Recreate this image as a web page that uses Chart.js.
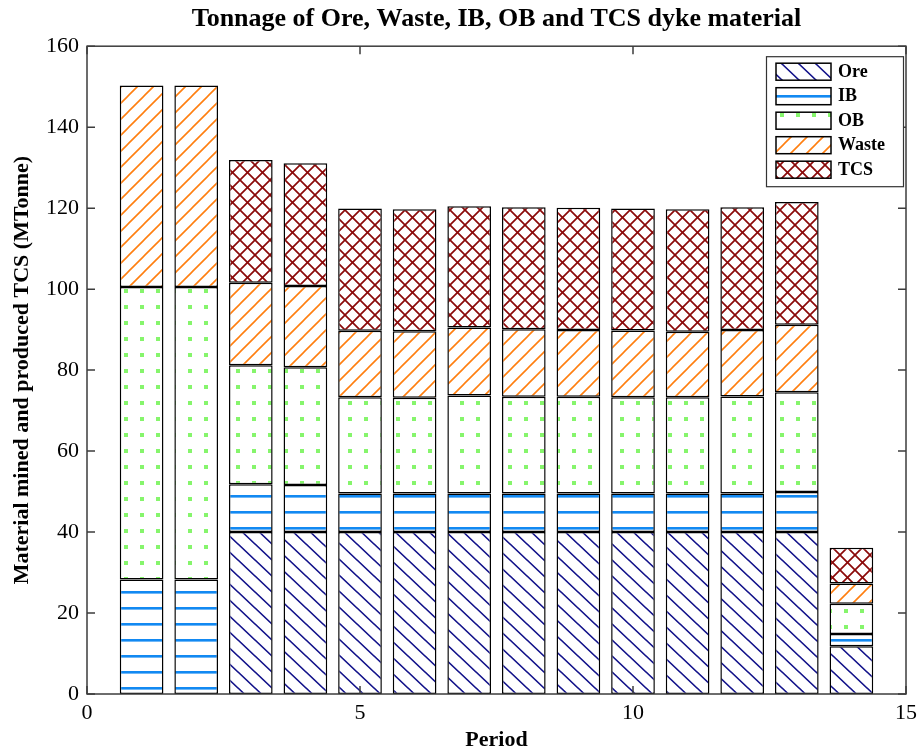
<!DOCTYPE html>
<html>
<head>
<meta charset="utf-8">
<title>Tonnage of Ore, Waste, IB, OB and TCS dyke material</title>
<script src="https://cdn.jsdelivr.net/npm/chart.js@4.4.1/dist/chart.umd.min.js"></script>
<style>
  html, body { margin: 0; padding: 0; background: #fff; }
  #chart { display: block; }
</style>
</head>
<body>
<canvas id="chart" width="923" height="756"></canvas>
<script>
// tonnage per period (MTonne), one array per material
const periods = [1, 2, 3, 4, 5, 6, 7, 8, 9, 10, 11, 12, 13, 14];
const ore   = [0, 0, 40, 40, 40, 40, 40, 40, 40, 40, 40, 40, 40, 11.8];
const ib    = [28.3, 28.3, 11.8, 11.6, 9.5, 9.5, 9.5, 9.5, 9.5, 9.5, 9.5, 9.5, 9.9, 3.0];
const ob    = [72.2, 72.2, 29.4, 29.1, 23.8, 23.7, 24.2, 23.9, 23.9, 23.8, 23.8, 24.0, 24.6, 7.5];
const waste = [49.8, 49.8, 20.4, 20.1, 16.4, 16.4, 16.8, 16.7, 16.5, 16.5, 16.2, 16.4, 16.7, 5.0];
const tcs   = [0, 0, 30.3, 30.3, 30.2, 30.1, 30.0, 30.1, 30.2, 30.1, 30.2, 30.3, 30.3, 8.8];

const seriesNames = ["Ore", "IB", "OB", "Waste", "TCS"];
const xRange = [0, 15];
const xStep = 5;
const yRange = [0, 160];
const yStep = 20;

const SERIF = "'Liberation Serif', 'Times New Roman', serif";

const canvas = document.getElementById("chart");
const ctx = canvas.getContext("2d");

function tile(w, h, draw) {
  const c = document.createElement("canvas");
  c.width = w;
  c.height = h;
  const g = c.getContext("2d");
  g.fillStyle = "#fff";
  g.fillRect(0, 0, w, h);
  draw(g, w, h);
  return ctx.createPattern(c, "repeat");
}

function diag(g, w, h, back) {
  g.beginPath();
  if (back) {
    g.moveTo(0, 0); g.lineTo(w, h);
    g.moveTo(-w / 2, h / 2); g.lineTo(w / 2, h * 1.5);
    g.moveTo(w / 2, -h / 2); g.lineTo(w * 1.5, h / 2);
  } else {
    g.moveTo(0, h); g.lineTo(w, 0);
    g.moveTo(-w / 2, h / 2); g.lineTo(w / 2, -h / 2);
    g.moveTo(w / 2, h * 1.5); g.lineTo(w * 1.5, h / 2);
  }
  g.stroke();
}

const patterns = {
  Ore: tile(17, 16, (g, w, h) => { g.strokeStyle = "#12128a"; g.lineWidth = 1.6; diag(g, w, h, true); }),
  IB: tile(16, 16, (g, w) => {
    g.fillStyle = "#1289f2";
    g.fillRect(0, 0, w, 1.6);
    g.fillRect(0, 15, w, 1);
  }),
  OB: tile(16, 16, (g) => { g.fillStyle = "#86f56c"; g.fillRect(12, 1, 4, 4); }),
  Waste: tile(16, 16, (g, w, h) => { g.strokeStyle = "#ff7f10"; g.lineWidth = 1.6; diag(g, w, h, false); }),
  TCS: tile(15, 15, (g, w, h) => {
    g.strokeStyle = "#8b0a0a"; g.lineWidth = 1.7;
    diag(g, w, h, false);
    diag(g, w, h, true);
  })
};

const values = [ore, ib, ob, waste, tcs];

const datasets = seriesNames.map((name, i) => ({
  label: name,
  data: periods.map((p, j) => ({ x: p, y: values[i][j] })),
  backgroundColor: patterns[name],
  borderColor: "#000",
  borderWidth: 1.5,
  borderSkipped: false,
  stack: "all",
  categoryPercentage: 1,
  barPercentage: 0.8
}));

// plot frame with inward ticks on all four sides
const frame = {
  id: "frame",
  afterDatasetsDraw(chart) {
    const { ctx: c, chartArea: a, scales } = chart;
    const x = scales.x, y = scales.y;
    c.save();
    c.strokeStyle = "#3c3c3c";
    c.lineWidth = 1.5;
    c.strokeRect(a.left, a.top, a.right - a.left, a.bottom - a.top);
    c.beginPath();
    y.ticks.forEach((t) => {
      const py = y.getPixelForValue(t.value);
      c.moveTo(a.left, py); c.lineTo(a.left + 8, py);
      c.moveTo(a.right, py); c.lineTo(a.right - 8, py);
    });
    x.ticks.forEach((t) => {
      const px = x.getPixelForValue(t.value);
      c.moveTo(px, a.bottom); c.lineTo(px, a.bottom - 8);
      c.moveTo(px, a.top); c.lineTo(px, a.top + 8);
    });
    c.stroke();
    c.restore();
  }
};

// boxed legend in the top-right corner of the plot
const boxLegend = {
  id: "boxLegend",
  afterDraw(chart) {
    const { ctx: c, chartArea: a } = chart;
    const bw = 137, bh = 130;
    const bx = a.right - bw - 3, by = a.top + 10;
    c.save();
    c.fillStyle = "#fff";
    c.fillRect(bx, by, bw, bh);
    c.strokeStyle = "#333";
    c.lineWidth = 1.2;
    c.strokeRect(bx + 0.5, by + 0.5, bw, bh);
    c.font = "bold 18px " + SERIF;
    c.textBaseline = "middle";
    chart.data.datasets.forEach((ds, i) => {
      const sy = by + 7 + i * 24.5;
      c.fillStyle = ds.backgroundColor;
      c.fillRect(bx + 10, sy, 55, 17);
      c.strokeStyle = "#000";
      c.lineWidth = 1.5;
      c.strokeRect(bx + 10, sy, 55, 17);
      c.fillStyle = "#000";
      c.fillText(ds.label, bx + 72, sy + 9);
    });
    c.restore();
  }
};

new Chart(canvas, {
  type: "bar",
  data: { datasets },
  plugins: [frame, boxLegend],
  options: {
    responsive: false,
    animation: false,
    devicePixelRatio: 1,
    layout: { padding: { left: 0, right: 15, top: 0, bottom: 0 } },
    plugins: {
      legend: { display: false },
      tooltip: { enabled: false },
      title: {
        display: true,
        fullSize: false,
        text: "Tonnage of Ore, Waste, IB, OB and TCS dyke material",
        color: "#000",
        font: { family: SERIF, size: 26, weight: "bold" },
        padding: { top: 4, bottom: 11 }
      }
    },
    scales: {
      x: {
        type: "linear",
        offset: false,
        min: xRange[0],
        max: xRange[1],
        grid: { display: false, drawTicks: false },
        border: { display: false },
        ticks: { stepSize: xStep, color: "#000", padding: 6, maxRotation: 0, font: { family: SERIF, size: 22 } },
        title: {
          display: true,
          text: "Period",
          color: "#000",
          font: { family: SERIF, size: 22, weight: "bold" },
          padding: { top: 0, bottom: 2 }
        },
        afterFit: (s) => { s.height = 62; }
      },
      y: {
        stacked: true,
        min: yRange[0],
        max: yRange[1],
        grid: { display: false, drawTicks: false },
        border: { display: false },
        ticks: { stepSize: yStep, color: "#000", padding: 8, font: { family: SERIF, size: 22 } },
        title: {
          display: true,
          text: "Material mined and produced TCS (MTonne)",
          color: "#000",
          font: { family: SERIF, size: 22, weight: "bold" },
          padding: { top: 9, bottom: 0 }
        },
        afterFit: (s) => { s.width = 87; }
      }
    }
  }
});
</script>
</body>
</html>
